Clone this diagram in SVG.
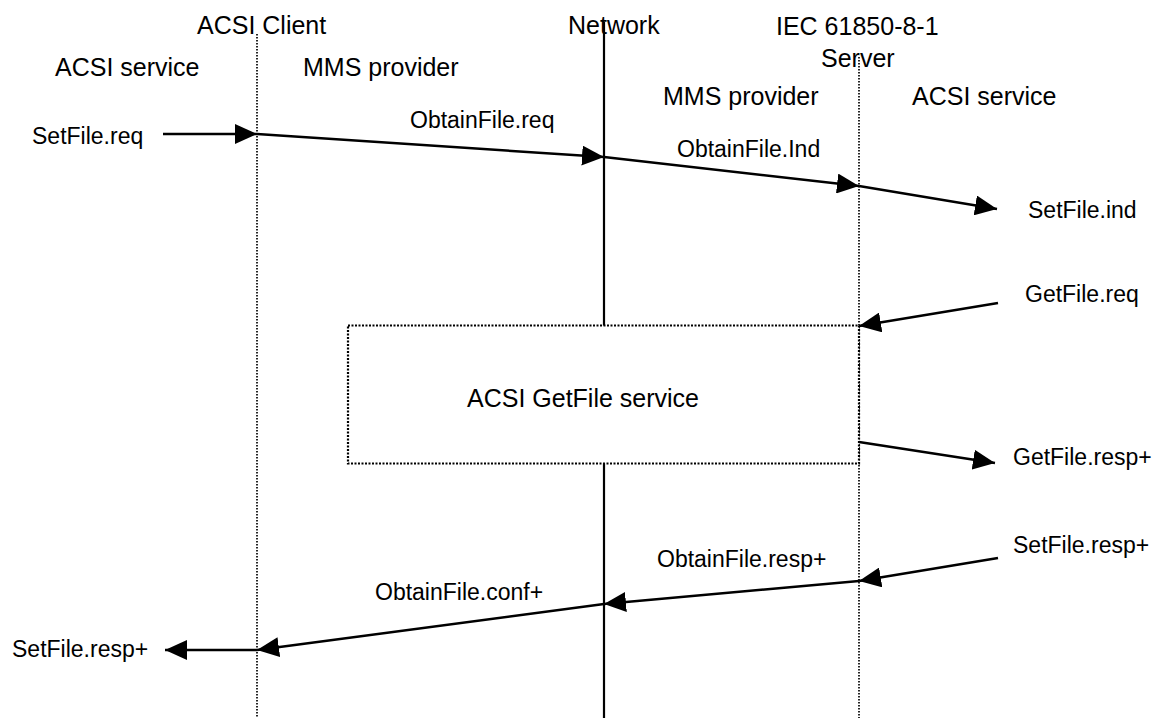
<svg xmlns="http://www.w3.org/2000/svg" width="1154" height="718" viewBox="0 0 1154 718">
<style>
text{font-family:"Liberation Sans",Arial,sans-serif;fill:#000}
.hd{font-size:25px}
.lb{font-size:23px}
.life{stroke:#000;stroke-width:1.7;stroke-dasharray:1.5 1.5;fill:none}
.net{stroke:#000;stroke-width:2.2;fill:none}
.box{stroke:#000;stroke-width:2.2;stroke-dasharray:2 1.5;fill:#fff}
.msg{stroke:#000;stroke-width:2.5;fill:none;marker-end:url(#ah)}
</style>
<defs>
<marker id="ah" markerUnits="userSpaceOnUse" markerWidth="22" markerHeight="20" refX="22" refY="10" orient="auto">
<path d="M0,0 L22,10 L0,20 Z" fill="#000"/>
</marker>
</defs>
<g id="headers">
<text class="hd" x="197" y="34">ACSI Client</text>
<text class="hd" x="55" y="75.5">ACSI service</text>
<text class="hd" x="303" y="75.5">MMS provider</text>
<text class="hd" x="568" y="34">Network</text>
<text class="hd" x="776" y="35">IEC 61850-8-1</text>
<text class="hd" x="821" y="66.5">Server</text>
<text class="hd" x="663" y="105">MMS provider</text>
<text class="hd" x="912" y="105">ACSI service</text>
</g>
<g id="lifelines">
<line class="life" x1="257" y1="34" x2="257" y2="718"/>
<line class="life" x1="859" y1="57" x2="859" y2="718"/>
<line class="net" x1="604" y1="22" x2="604" y2="326"/>
<line class="net" x1="604" y1="463" x2="604" y2="718"/>
</g>
<g id="getfile-box">
<rect class="box" x="348" y="325.5" width="511" height="138"/>
<text class="hd" x="467" y="407">ACSI GetFile service</text>
</g>
<g id="connectors">
<line class="msg" x1="163" y1="134" x2="257" y2="134"/>
<line class="msg" x1="257" y1="134" x2="604" y2="157"/>
<line class="msg" x1="604" y1="157" x2="859" y2="186"/>
<line class="msg" x1="859" y1="186" x2="997" y2="209"/>
<line class="msg" x1="998" y1="303" x2="859" y2="326"/>
<line class="msg" x1="859" y1="442" x2="995" y2="463"/>
<line class="msg" x1="998" y1="558" x2="859" y2="581"/>
<line class="msg" x1="859" y1="581" x2="604" y2="604"/>
<line class="msg" x1="604" y1="604" x2="257" y2="650"/>
<line class="msg" x1="257" y1="650" x2="165" y2="650"/>
</g>
<g id="labels">
<text class="lb" x="32" y="144">SetFile.req</text>
<text class="lb" x="410" y="128">ObtainFile.req</text>
<text class="lb" x="677" y="157">ObtainFile.Ind</text>
<text class="lb" x="1028" y="218">SetFile.ind</text>
<text class="lb" x="1025" y="302">GetFile.req</text>
<text class="lb" x="1013" y="465">GetFile.resp+</text>
<text class="lb" x="1013" y="553">SetFile.resp+</text>
<text class="lb" x="657" y="567">ObtainFile.resp+</text>
<text class="lb" x="375" y="600">ObtainFile.conf+</text>
<text class="lb" x="12" y="657">SetFile.resp+</text>
</g>
</svg>
